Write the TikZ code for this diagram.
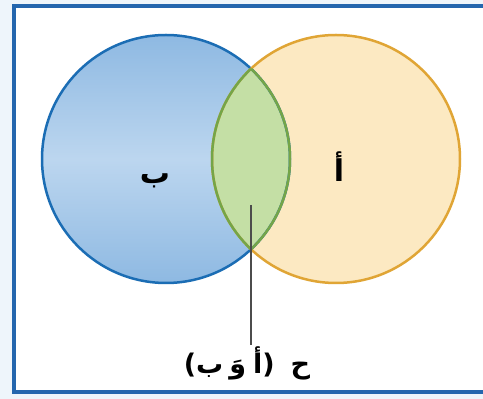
\documentclass[tikz,border=0pt]{standalone}
\usepackage{fontspec}
\newfontfamily\arabicfont[Script=Arabic]{DejaVu Sans}
\TeXXeTstate=1

\definecolor{frameblue}{HTML}{2466AE}
\definecolor{outerbg}{HTML}{EEF5FB}
\definecolor{setblue}{HTML}{1B6DB4}
\definecolor{setorange}{HTML}{E0A535}
\definecolor{setgreen}{HTML}{74A548}
\definecolor{fillblue}{HTML}{8EB9E2}
\definecolor{fillbluelight}{HTML}{BCD6EF}
\definecolor{fillorange}{HTML}{FCE9C2}
\definecolor{fillgreen}{HTML}{C4DFA5}

\tikzset{
  setlabel/.style={font=\arabicfont\bfseries\fontsize{30}{34}\selectfont},
  eventlabel/.style={font=\arabicfont\bfseries\fontsize{27}{32}\selectfont, inner sep=1pt},
}

\begin{document}
\begin{tikzpicture}[x=1pt,y=1pt]
\useasboundingbox (0,0) rectangle (483,399);
\fill[outerbg] (0,0) rectangle (483,399);
\begin{scope}
\clip (0,0) rectangle (483,399);
\draw[frameblue, line width=3.5, fill=white] (14,7) rectangle (495,393);
\end{scope}
% the two sets
\shade[top color=fillblue, bottom color=fillblue, middle color=fillbluelight]
  (166,240) circle (124);
\fill[fillorange] (336,240) circle (124);
% intersection
\begin{scope}
\clip (166,240) circle (124);
\fill[fillgreen] (336,240) circle (124);
\end{scope}
\draw[setblue, line width=2.5] (166,240) circle (124);
\draw[setorange, line width=2.5] (336,240) circle (124);
\begin{scope}
\clip (166,240) circle (124);
\draw[setgreen, line width=2.5] (336,240) circle (124);
\end{scope}
\begin{scope}
\clip (336,240) circle (124);
\draw[setgreen, line width=2.5] (166,240) circle (124);
\end{scope}
\node[setlabel] (setB) at (155,218) {\beginR ب\endR};
\node[setlabel] (setA) at (339,232) {\beginR أ\endR};
\coordinate (lens) at (251,194);
\node[eventlabel] (both) at (247,36) {\beginR ح\hspace{16pt}(أ\hspace{7pt}وَ\hspace{6pt}ب)\endR};
\draw[black!70, line width=1.2] (lens) -- (both.north -| lens);
\end{tikzpicture}
\end{document}
